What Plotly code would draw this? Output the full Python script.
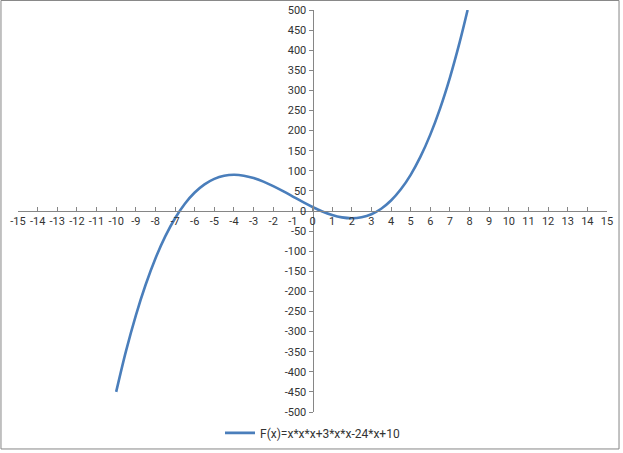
import plotly.graph_objects as go

# sample points of the curve
x_vals = [-10, -9.5, -9, -8.5, -8, -7.5, -7, -6.5, -6, -5.5, -5, -4.5, -4, -3.5, -3,
          -2.5, -2, -1.5, -1, -0.5, 0, 0.5, 1, 1.5, 2, 2.5, 3, 3.5, 4, 4.5, 5,
          5.5, 6, 6.5, 7, 7.5, 7.9]
y_vals = [-450, -348.6, -260, -183.4, -118, -63.1, -18, 18.1, 46, 66.4, 80, 87.6, 90, 87.9, 82,
          73.1, 62, 49.4, 36, 22.6, 10, -1.1, -10, -15.9, -18, -15.6, -8, 5.6, 26, 53.9, 90,
          135.1, 190, 255.4, 332, 420.6, 500]
series_name = "F(x)=x*x*x+3*x*x-24*x+10"
x_ticks = list(range(-15, 16))
y_ticks = list(range(-500, 501, 50))

AXIS_GRAY = "#868686"
TEXT = "#333333"

fig = go.Figure()
fig.add_trace(go.Scatter(x=x_vals, y=y_vals, mode="lines", name=series_name,
                         line=dict(color="#4A7EBB", width=2.6, shape="spline")))

fig.update_layout(
    width=623, height=453,
    plot_bgcolor="white", paper_bgcolor="white",
    font=dict(family="Roboto, Arial, sans-serif", size=11, color=TEXT),
    margin=dict(l=18, r=16, t=10, b=41, autoexpand=False),
    showlegend=True,
    legend=dict(orientation="h", x=0.5, xanchor="center", y=-0.052, yanchor="middle",
                font=dict(size=12, color=TEXT), itemwidth=30),
    xaxis=dict(range=[-15, 15], tickvals=x_ticks, ticktext=[str(v) for v in x_ticks],
               tickangle=0, ticks="inside", ticklen=4,
               tickcolor=AXIS_GRAY, showline=True, linecolor=AXIS_GRAY, linewidth=1,
               showgrid=False, zeroline=False, anchor="free", position=0.5,
               automargin=False),
    yaxis=dict(range=[-500, 500], tickvals=y_ticks, ticktext=[str(v) for v in y_ticks],
               ticks="outside", ticklen=4,
               tickcolor=AXIS_GRAY, showline=True, linecolor=AXIS_GRAY, linewidth=1,
               showgrid=False, zeroline=False, anchor="free", position=0.5,
               automargin=False),
    shapes=[dict(type="rect", xref="paper", yref="paper",
                 x0=-0.0289, x1=1.0204, y0=-0.092, y1=1.0237,
                 line=dict(color=AXIS_GRAY, width=1))],
)

# drop the default page margin so the figure sits at the window's corner
fig.write_html("out.html", config={"displayModeBar": False},
               post_script="document.body.style.margin='0';")
